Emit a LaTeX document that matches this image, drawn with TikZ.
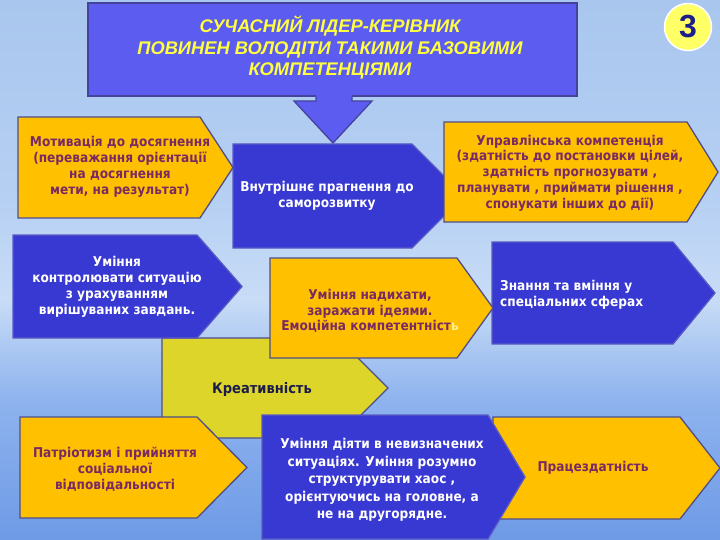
\documentclass[tikz,border=0pt]{standalone}
\usepackage{fontspec}
\setmainfont{DejaVu Sans Condensed}
\newfontfamily\ttlfont{Liberation Sans}
\definecolor{skyA}{HTML}{A9C6EE}
\definecolor{skyB}{HTML}{B6D0F3}
\definecolor{skyC}{HTML}{C8DCF6}
\definecolor{skyD}{HTML}{8EB3EE}
\definecolor{skyE}{HTML}{6E9AE6}
\definecolor{boxorange}{HTML}{FFC000}
\definecolor{orangeedge}{HTML}{4E4E8C}
\definecolor{boxblue}{HTML}{3838D2}
\definecolor{blueedge}{HTML}{5A5AC4}
\definecolor{calloutblue}{HTML}{5C5CF0}
\definecolor{calloutedge}{HTML}{44449C}
\definecolor{txtpurple}{HTML}{7A2A62}
\definecolor{creayellow}{HTML}{DDD52A}
\definecolor{creatext}{HTML}{1C1C4C}
\definecolor{titleyellow}{HTML}{FFFF40}
\definecolor{badgeyellow}{HTML}{FFFF66}
\definecolor{badgenum}{HTML}{1E1E8A}
\definecolor{softyellow}{HTML}{FFF08A}
\newcommand\pentbox[6]{%
  \path[#1] (#2,#3) -- (#4,#3) -- (#5,{(#3+#6)/2}) -- (#4,#6) -- (#2,#6) -- cycle;}
\tikzset{
  orangebox/.style={fill=boxorange, draw=orangeedge, line width=1.3pt},
  bluebox/.style={fill=boxblue, draw=blueedge, line width=1.3pt},
  yellowbox/.style={fill=creayellow, draw=orangeedge, line width=1.3pt},
  otxt/.style={font=\bfseries\fontsize{13.5}{15.8}\selectfont, text=txtpurple, align=center, inner sep=0pt},
  wtxt/.style={font=\bfseries\fontsize{13.5}{16.2}\selectfont, text=white, align=center, inner sep=0pt},
}
\begin{document}
\begin{tikzpicture}[x=1pt,y=-1pt]
\useasboundingbox (0,0) rectangle (720,540);
% sky background
\shade[top color=skyA, bottom color=skyB] (0,0) rectangle (720,200);
\shade[top color=skyB, bottom color=skyC] (0,199.5) rectangle (720,300);
\shade[top color=skyC, bottom color=skyD] (0,299.5) rectangle (720,400);
\shade[top color=skyD, bottom color=skyE] (0,399.5) rectangle (720,540);
% title callout
\path[fill=calloutblue, draw=calloutedge, line width=1.3pt] (88,3) rectangle (577,96);
\fill[calloutblue] (316,93) -- (352,93) -- (352,101) -- (372,101) -- (333,143) -- (294,101) -- (316,101) -- cycle;
\draw[calloutedge, line width=1.3pt, line join=miter] (316,96.6) -- (316,101) -- (294,101) -- (333,143) -- (372,101) -- (352,101) -- (352,96.6);
\node[font=\ttlfont\bfseries\itshape\fontsize{18.3}{21.5}\selectfont, text=titleyellow, align=center] (title) at (330,48)
  {СУЧАСНИЙ ЛІДЕР-КЕРІВНИК\\ПОВИНЕН ВОЛОДІТИ ТАКИМИ БАЗОВИМИ\\КОМПЕТЕНЦІЯМИ};
% badge
\node[circle, fill=badgeyellow, draw=white, line width=1.5pt, minimum size=47pt, inner sep=0pt,
  font=\ttlfont\bfseries\fontsize{32}{32}\selectfont, text=badgenum] (badge) at (688,27) {3};
% creativity
\pentbox{yellowbox}{162}{338}{338}{388}{438}
\node[font=\bfseries\fontsize{14.5}{16}\selectfont, text=creatext] (crea) at (262,389) {Креативність};
% inner drive
\pentbox{bluebox}{233}{144}{412}{464}{248}
\node[wtxt] (inner) at (327,196) {Внутрішнє прагнення до\\саморозвитку};
% motivation
\pentbox{orangebox}{18}{117}{200}{233}{218}
\node[otxt] (motiv) at (120,167) {Мотивація до досягнення\\(переважання орієнтації\\на досягнення\\мети, на результат)};
% management
\pentbox{orangebox}{444}{122}{687}{718}{222}
\node[otxt] (manag) at (570,173) {Управлінська компетенція\\(здатність до постановки цілей,\\здатність прогнозувати ,\\планувати , приймати рішення ,\\спонукати інших до дії)};
% control
\pentbox{bluebox}{13}{235}{197}{242}{338}
\node[wtxt] (control) at (117,287) {Уміння\\контролювати ситуацію\\з урахуванням\\вирішуваних завдань.};
% knowledge
\pentbox{bluebox}{492}{242}{673}{715}{344}
\node[wtxt, align=left, anchor=west] (know) at (500,295) {Знання та вміння у\\спеціальних сферах};
% emotional
\pentbox{orangebox}{270}{258}{457}{493}{358}
\node[otxt] (emot) at (370,311) {Уміння надихати,\\заражати ідеями.\\Емоційна компетентніст\textcolor{softyellow}{ь}};
% patriotism
\pentbox{orangebox}{20}{417}{197}{247}{518}
\node[otxt] (patr) at (115,469) {Патріотизм і прийняття\\соціальної\\відповідальності};
% work capacity
\pentbox{orangebox}{493}{417}{680}{720}{519}
\node[otxt] (work) at (593,468) {Працездатність};
% uncertainty
\pentbox{bluebox}{262}{415}{488}{525}{539}
\node[wtxt, font=\bfseries\fontsize{13.5}{17.5}\selectfont] (uncert) at (382,480) {Уміння діяти в невизначених\\ситуаціях. Уміння розумно\\структурувати хаос ,\\орієнтуючись на головне, а\\не на другорядне.};
\end{tikzpicture}
\end{document}
